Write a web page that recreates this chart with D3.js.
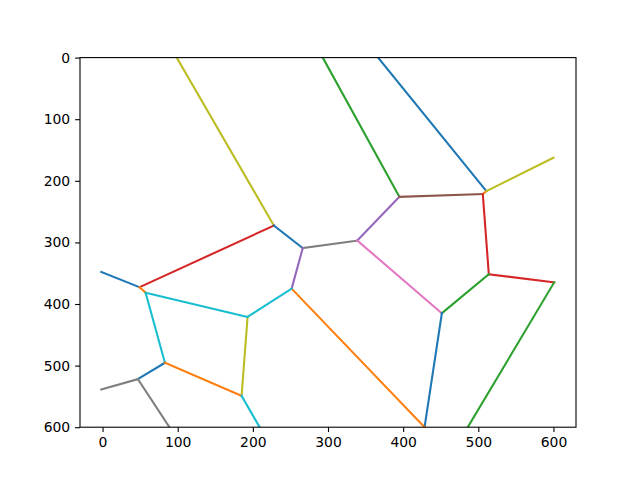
<!DOCTYPE html>
<html><head><meta charset="utf-8">
<script src="https://cdn.jsdelivr.net/npm/d3@7"></script>
<style>body{margin:0;background:#fff}</style>
</head><body>
<svg id="chart" width="640" height="480"></svg>
<script>
// Voronoi vertices (data coordinates)
const vertexNames = ["A","B","C","D","E","U","F","G","H","I","W","J","K","L","M","N","O","P","Q","R","S","T","V","Ttop1","Ttop2","Ttop3"];
const vertexX = [228, 266.4, 339, 395, 506, 510.7, 514, 601, 451.5, 428.5, 486, 251.6, 193, 57.3, 49.3, -1.7, 83, 47, -1.7, 89, 185, 209, 600, 98.7, 293, 366.7];
const vertexY = [272.7, 309.3, 297, 226, 221.6, 216.8, 351.8, 364.8, 415, 600, 600, 375, 421, 381.6, 372.8, 348, 495.4, 522, 538.7, 600, 549, 600, 162.6, 0, 0, 0];
// Ridge segments: start vertex, end vertex, colour
const segStart = ["Ttop1","Ttop2","Ttop3","A","A","B","B","C","C","D","E","U","E","F","F","H","G","J","J","K","K","N","M","L","O","P","P","O","S"];
const segEnd   = ["A","D","U","M","B","C","J","D","H","E","U","V","F","G","H","I","W","I","K","S","L","M","L","O","P","Q","R","S","T"];
const segColor = ["#bcbd22","#2ca02c","#1f77b4","#d62728","#1f77b4","#7f7f7f","#9467bd","#9467bd","#e377c2","#8c564b","#ff7f0e","#bcbd22","#d62728","#d62728","#2ca02c","#1f77b4","#2ca02c","#ff7f0e","#17becf","#bcbd22","#17becf","#1f77b4","#ff7f0e","#17becf","#1f77b4","#7f7f7f","#7f7f7f","#ff7f0e","#17becf"];
const xTicks = [0,100,200,300,400,500,600];
const yTicks = [0,100,200,300,400,500,600];

const svg = d3.select("#chart");
const L = 80, R = 576, T = 57.6, B = 427.2;
const x = d3.scaleLinear().domain([-30, 630]).range([L, R]);
const y = d3.scaleLinear().domain([0, 600]).range([T, B]);
const pos = {};
vertexNames.forEach((n,i)=>pos[n]=[vertexX[i], vertexY[i]]);

svg.append("clipPath").attr("id","clip").append("rect")
  .attr("x",L).attr("y",T).attr("width",R-L).attr("height",B-T);

const g = svg.append("g").attr("clip-path","url(#clip)");
segStart.forEach((s,i)=>{
  const a = pos[s], b = pos[segEnd[i]];
  g.append("line")
    .attr("x1", x(a[0])).attr("y1", y(a[1]))
    .attr("x2", x(b[0])).attr("y2", y(b[1]))
    .attr("stroke", segColor[i]).attr("stroke-width", 2.08)
    .attr("stroke-linecap","square");
});

const font = "DejaVu Sans";
const xAxis = svg.append("g").attr("transform",`translate(0,${B})`)
  .call(d3.axisBottom(x).tickValues(xTicks).tickSize(4.9).tickPadding(4.9).tickFormat(d3.format("d")));
const yAxis = svg.append("g").attr("transform",`translate(${L},0)`)
  .call(d3.axisLeft(y).tickValues(yTicks).tickSize(4.9).tickPadding(4.9).tickFormat(d3.format("d")));
[xAxis,yAxis].forEach(a=>{
  a.select(".domain").remove();
  a.selectAll("line").attr("stroke","#000").attr("stroke-width",1.1);
  a.selectAll("text").attr("font-family",font).attr("font-size","13.9px").attr("fill","#000");
});
svg.append("rect").attr("x",L).attr("y",T).attr("width",R-L).attr("height",B-T)
  .attr("fill","none").attr("stroke","#000").attr("stroke-width",1.1);
</script>
</body></html>
